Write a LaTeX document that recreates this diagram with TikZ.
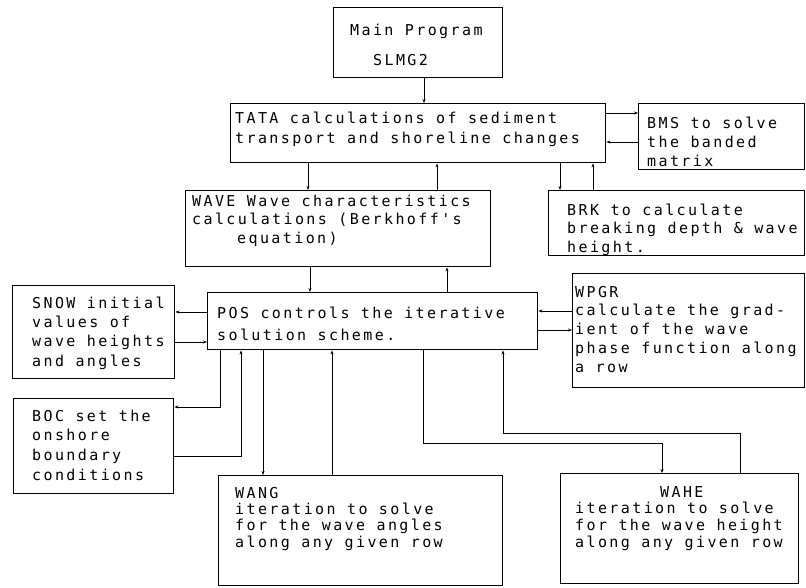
\documentclass[tikz,border=0pt]{standalone}
\usepackage{fontspec}
\newfontfamily\plotfont[LetterSpace=16]{DejaVu Sans Mono}
\usetikzlibrary{arrows.meta}
\newcommand\fs{\rule{0pt}{12pt}}
\begin{document}
\begin{tikzpicture}[x=1pt,y=-1pt,
  box/.style={draw, line width=1.4pt, inner sep=0pt, rectangle, anchor=north west},
  txt/.style={font=\plotfont\fontsize{15}{#1}\selectfont, align=left, anchor=north west, inner sep=0pt},
  conn/.style={line width=0.9pt},
  arr/.style={conn, -{Stealth[length=4pt,width=3pt]}}]
\useasboundingbox[fill=white] (0,0) rectangle (806,587);

% boxes
\node[box, minimum width=169pt, minimum height=70pt] (main) at (333,7) {};
\node[box, minimum width=375pt, minimum height=59pt] (tata) at (230,103) {};
\node[box, minimum width=166pt, minimum height=66pt] (bms) at (638,103) {};
\node[box, minimum width=256pt, minimum height=65pt] (brk) at (548,190) {};
\node[box, minimum width=305pt, minimum height=76pt] (wave) at (185,190) {};
\node[box, minimum width=330pt, minimum height=57pt] (pos) at (207,292) {};
\node[box, minimum width=162pt, minimum height=93pt] (snow) at (12,285) {};
\node[box, minimum width=232pt, minimum height=114pt] (wpgr) at (572,273) {};
\node[box, minimum width=160pt, minimum height=95pt] (boc) at (13,398) {};
\node[box, minimum width=284pt, minimum height=110pt] (wang) at (218,475) {};
\node[box, minimum width=238pt, minimum height=110pt] (wahe) at (560,473) {};

% texts
\node[txt=30] (mainT) at (350,23) {\fs Main Program\\\hspace*{23pt}SLMG2};
\node[txt=20] (tataT) at (235,111) {\fs TATA calculations of sediment\\transport and shoreline changes};
\node[txt=19] (bmsT) at (647,116) {\fs BMS to solve\\the banded\\matrix};
\node[txt=18.5] (brkT) at (567,203) {\fs BRK to calculate\\breaking depth \& wave\\height.};
\node[txt=18.5] (waveT) at (192,194) {\fs WAVE Wave characteristics\\calculations (Berkhoff's\\\hspace*{45pt}equation)};
\node[txt=22] (posT) at (217,306) {\fs POS controls the iterative\\solution scheme.};
\node[txt=19.3] (snowT) at (32,296) {\fs SNOW initial\\values of\\wave heights\\and angles};
\node[txt=18.75] (wpgrT) at (575,285) {\fs WPGR\\calculate the grad-\\ient of the wave\\phase function along\\a row};
\node[txt=19.7] (bocT) at (32,409) {\fs BOC set the\\onshore\\boundary\\conditions};
\node[txt=16.3] (wangT) at (235,486) {\fs WANG\\iteration to solve\\for the wave angles\\along any given row};
\node[txt=16.7] (waheT) at (575,485) {\fs\hspace*{85pt}WAHE\\iteration to solve\\for the wave height\\along any given row};

% helper columns and rows
\coordinate (k424) at (424,0);
\coordinate (k560) at (560,0);
\coordinate (k593) at (593,0);
\coordinate (k308) at (308,0);
\coordinate (k437) at (437,0);
\coordinate (k310) at (310,0);
\coordinate (k447) at (447,0);
\coordinate (k220) at (220,0);
\coordinate (k241) at (241,0);
\coordinate (k263) at (263,0);
\coordinate (k332) at (332,0);
\coordinate (k423) at (423,0);
\coordinate (k662) at (662,0);
\coordinate (k740) at (740,0);
\coordinate (k503) at (503,0);
\coordinate (r113) at (0,113);
\coordinate (r142) at (0,142);
\coordinate (r312) at (0,312);
\coordinate (r342) at (0,342);
\coordinate (r311) at (0,311);
\coordinate (r330) at (0,330);
\coordinate (r407) at (0,407);
\coordinate (r456) at (0,456);
\coordinate (r443) at (0,443);
\coordinate (r433) at (0,433);

% connectors
\draw[arr] (main.south -| k424) -- (tata.north -| k424);
\draw[arr] (tata.east |- r113) -- (bms.west |- r113);
\draw[arr] (bms.west |- r142) -- (tata.east |- r142);
\draw[arr] (tata.south -| k560) -- (brk.north -| k560);
\draw[arr] (brk.north -| k593) -- (tata.south -| k593);
\draw[arr] (tata.south -| k308) -- (wave.north -| k308);
\draw[arr] (wave.north -| k437) -- (tata.south -| k437);
\draw[arr] (wave.south -| k310) -- (pos.north -| k310);
\draw[arr] (pos.north -| k447) -- (wave.south -| k447);
\draw[arr] (pos.west |- r312) -- (snow.east |- r312);
\draw[arr] (snow.east |- r342) -- (pos.west |- r342);
\draw[arr] (wpgr.west |- r311) -- (pos.east |- r311);
\draw[arr] (pos.east |- r330) -- (wpgr.west |- r330);
\draw[arr] (pos.south -| k220) |- (boc.east |- r407);
\draw[arr] (boc.east |- r456) -| (pos.south -| k241);
\draw[arr] (pos.south -| k263) -- (wang.north -| k263);
\draw[arr] (wang.north -| k332) -- (pos.south -| k332);
\draw[arr] (pos.south -| k423) |- (k662 |- r443) -- (wahe.north -| k662);
\draw[arr] (wahe.north -| k740) |- (k503 |- r433) -- (pos.south -| k503);
\end{tikzpicture}
\end{document}
